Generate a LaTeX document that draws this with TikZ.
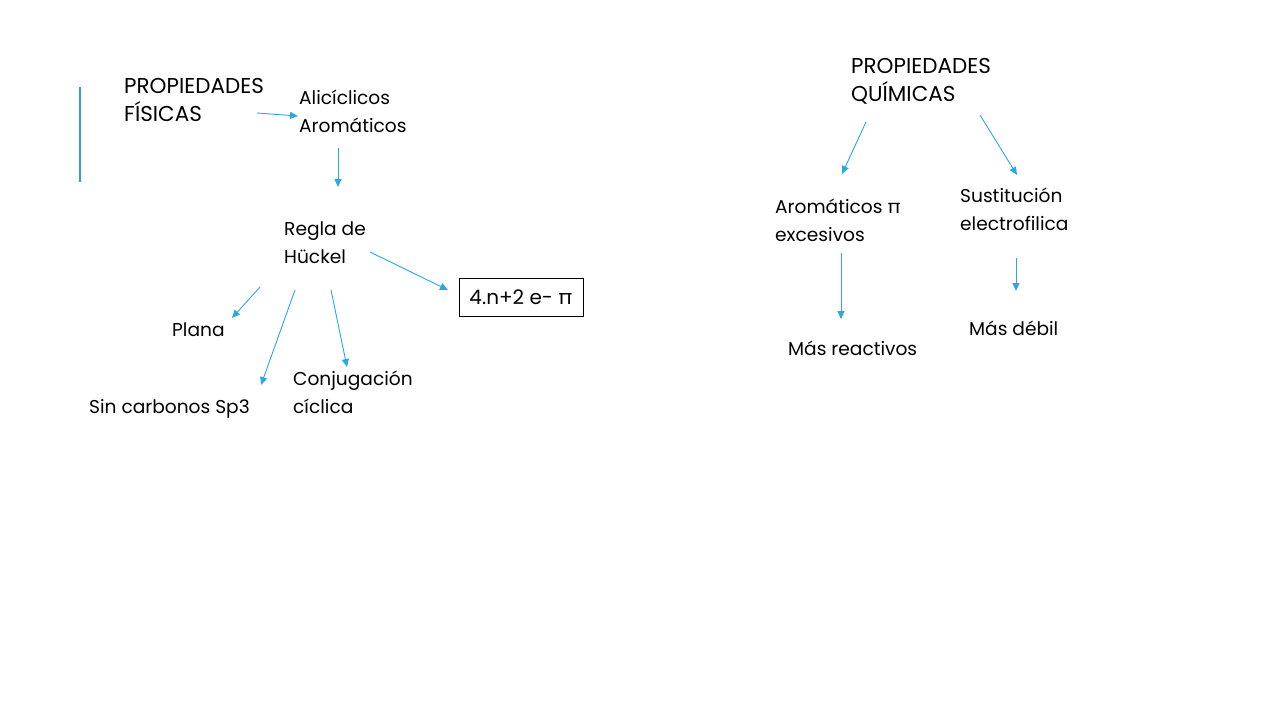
\documentclass[tikz,border=0pt]{standalone}
\usepackage{fontspec}
\setmainfont{Poppins}
\usetikzlibrary{arrows.meta}
\definecolor{arr}{HTML}{2AA8E0}
\definecolor{bar}{HTML}{3A9DB8}
\tikzset{
  lbl/.style={anchor=west, align=left, inner sep=0pt, font=\fontsize{21.5}{28}\selectfont},
  sml/.style={anchor=west, align=left, inner sep=0pt, font=\fontsize{18.6}{28}\selectfont},
  conn/.style={draw=arr, line width=0.9pt, -{Triangle[length=8pt,width=7pt]}},
  boxed/.style={draw=black, line width=0.8pt, minimum width=124pt, minimum height=38pt, inner sep=0pt, font=\fontsize{20}{20}\selectfont}
}
\begin{document}
\begin{tikzpicture}[x=1pt,y=-1pt]
\useasboundingbox (0,0) rectangle (1280,720);
\fill[white] (0,0) rectangle (1280,720);
% left bar
\coordinate (bt) at (80,87);
\coordinate (bb) at (80,182);
\draw[bar, line width=2.8pt] (bt) -- (bb);
% nodes
\node[lbl] (fis) at (124,100) {PROPIEDADES\\FÍSICAS};
\node[sml] (ali) at (299,111) {Alicíclicos\\Aromáticos};
\node[sml] (reg) at (284,243) {Regla de\\Hückel};
\node[boxed] (huk) at (521,297) {4.n+2 e- π};
\node[sml] (pla) at (172,330) {Plana};
\node[sml] (sin) at (89,409) {Sin carbonos Sp3};
\node[sml] (con) at (293,392) {Conjugación\\cíclica};
\node[lbl] (qui) at (851,81) {PROPIEDADES\\QUÍMICAS};
\node[sml] (aro) at (775,220) {Aromáticos π\\excesivos};
\node[sml] (sus) at (960,209) {Sustitución\\electrofilica};
\node[sml] (mre) at (788,348) {Más reactivos};
\node[sml] (mde) at (969,328) {Más débil};
% connector endpoints
\coordinate (a1s) at (257,113); \coordinate (a1e) at (298,116);
\coordinate (a2s) at (338,148); \coordinate (a2e) at (338,187);
\coordinate (a3s) at (370,252); \coordinate (a3e) at (448,290);
\coordinate (a4s) at (260,287); \coordinate (a4e) at (232,318);
\coordinate (a5s) at (295,290); \coordinate (a5e) at (261,385);
\coordinate (a6s) at (331,290); \coordinate (a6e) at (347,367);
\coordinate (b1s) at (866,122); \coordinate (b1e) at (842,174);
\coordinate (b2s) at (980,115); \coordinate (b2e) at (1017,175);
\coordinate (b3s) at (841,253); \coordinate (b3e) at (841,319);
\coordinate (b4s) at (1016,258); \coordinate (b4e) at (1016,291);
\draw[conn] (a1s) -- (a1e);
\draw[conn] (a2s) -- (a2e);
\draw[conn] (a3s) -- (a3e);
\draw[conn] (a4s) -- (a4e);
\draw[conn] (a5s) -- (a5e);
\draw[conn] (a6s) -- (a6e);
\draw[conn] (b1s) -- (b1e);
\draw[conn] (b2s) -- (b2e);
\draw[conn] (b3s) -- (b3e);
\draw[conn] (b4s) -- (b4e);
\end{tikzpicture}
\end{document}
